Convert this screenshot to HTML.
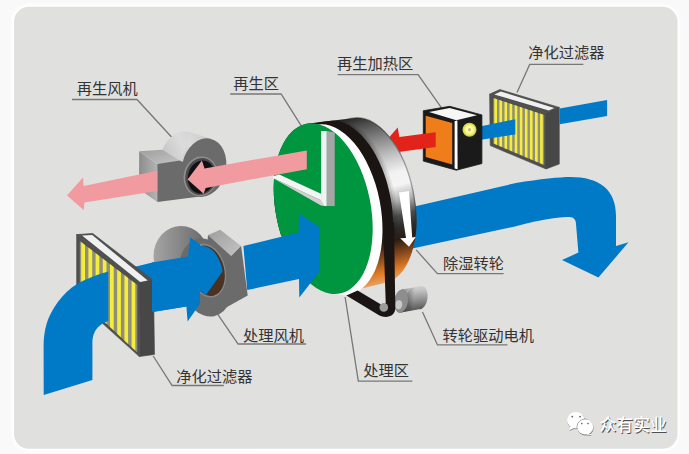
<!DOCTYPE html><html><head><meta charset="utf-8"><style>html,body{margin:0;padding:0;background:#f9f9f9;font-family:"Liberation Sans",sans-serif}svg{display:block}</style></head><body><svg width="689" height="454" viewBox="0 0 689 454"><defs><filter id="bl" x="-5%" y="-5%" width="110%" height="110%"><feGaussianBlur stdDeviation="1.2"/></filter><radialGradient id="yel"><stop offset="0" stop-color="#a8a8a0"/><stop offset="0.18" stop-color="#c8c890"/><stop offset="0.3" stop-color="#ffffa8"/><stop offset="0.65" stop-color="#f6f27a"/><stop offset="0.8" stop-color="#dde05a"/><stop offset="1" stop-color="#c4cc40"/></radialGradient><linearGradient id="rim" gradientUnits="userSpaceOnUse" x1="352" y1="117" x2="402" y2="296"><stop offset="0" stop-color="#262626"/><stop offset="0.06" stop-color="#505050"/><stop offset="0.15" stop-color="#868686"/><stop offset="0.26" stop-color="#c6c6c6"/><stop offset="0.35" stop-color="#f2f2f2"/><stop offset="0.42" stop-color="#f4f4f4"/><stop offset="0.5" stop-color="#b0b0b0"/><stop offset="0.58" stop-color="#4a4a4a"/><stop offset="0.64" stop-color="#2c2c2c"/><stop offset="0.70" stop-color="#2a1c12"/><stop offset="0.78" stop-color="#8a4a1e"/><stop offset="0.85" stop-color="#de7a22"/><stop offset="0.91" stop-color="#e8a468"/><stop offset="0.96" stop-color="#ead0b8"/></linearGradient><clipPath id="cr"><rect x="250" y="100" width="200" height="140"/></clipPath><clipPath id="cb"><rect x="250" y="100" width="200" height="136"/></clipPath><linearGradient id="fl" x1="0" y1="0" x2="1" y2="0"><stop offset="0" stop-color="#8c8c8c"/><stop offset="1" stop-color="#b4b4b4"/></linearGradient><linearGradient id="ft" x1="0" y1="0" x2="1" y2="1"><stop offset="0" stop-color="#9e9e9e"/><stop offset="1" stop-color="#c4c4c4"/></linearGradient><linearGradient id="fc" x1="0" y1="1" x2="1" y2="0"><stop offset="0" stop-color="#b0b0b0"/><stop offset="0.6" stop-color="#dcdcdc"/><stop offset="1" stop-color="#c8c8c8"/></linearGradient><linearGradient id="f2b" x1="0" y1="0" x2="1" y2="0"><stop offset="0" stop-color="#a4a4a4"/><stop offset="1" stop-color="#666"/></linearGradient><clipPath id="c1"><path d="M100,200 L200,200 L200,340 L100,340 Z"/><ellipse cx="206" cy="270.6" rx="16.2" ry="25" transform="rotate(-14 206 270.6)"/></clipPath><linearGradient id="mot" gradientUnits="userSpaceOnUse" x1="412" y1="286" x2="416" y2="313"><stop offset="0" stop-color="#d4d4d4"/><stop offset="0.18" stop-color="#c4c4c4"/><stop offset="0.5" stop-color="#969696"/><stop offset="1" stop-color="#484848"/></linearGradient><linearGradient id="mots" gradientUnits="userSpaceOnUse" x1="402" y1="0" x2="414" y2="0"><stop offset="0" stop-color="#000" stop-opacity="0.28"/><stop offset="1" stop-color="#000" stop-opacity="0"/></linearGradient></defs><rect width="689" height="454" fill="#f9f9f9"/>
<rect x="14" y="6.8" width="663.5" height="442" rx="15" fill="none" stroke="#ffffff" stroke-width="5" filter="url(#bl)"/>
<rect x="14" y="6.8" width="663.5" height="442" rx="15" fill="#e0e0df"/>
<text x="76.8" y="93.5" font-size="15.25" fill="#333" font-family="'Liberation Sans','Noto Sans CJK SC',sans-serif">再生风机</text><polyline points="72.0,99.5 137.0,99.5 171.5,137.0" fill="none" stroke="#777" stroke-width="1.3" />
<text x="233.3" y="88.8" font-size="15.25" fill="#333" font-family="'Liberation Sans','Noto Sans CJK SC',sans-serif">再生区</text><polyline points="230.2,94.0 281.1,94.0 301.9,126.8" fill="none" stroke="#777" stroke-width="1.3" />
<text x="337" y="69.2" font-size="15.25" fill="#333" font-family="'Liberation Sans','Noto Sans CJK SC',sans-serif">再生加热区</text><polyline points="337.7,74.7 418.1,74.7 441.5,107.9" fill="none" stroke="#777" stroke-width="1.3" />
<text x="528.3" y="57.7" font-size="15.25" fill="#333" font-family="'Liberation Sans','Noto Sans CJK SC',sans-serif">净化过滤器</text><polyline points="583.4,64.4 529.7,64.4 517.0,92.5" fill="none" stroke="#777" stroke-width="1.3" />
<text x="443" y="268.8" font-size="15.25" fill="#333" font-family="'Liberation Sans','Noto Sans CJK SC',sans-serif">除湿转轮</text><polyline points="503.6,273.6 437.4,273.6 416.2,249.9" fill="none" stroke="#777" stroke-width="1.3" />
<text x="442.5" y="341.3" font-size="15.25" fill="#333" font-family="'Liberation Sans','Noto Sans CJK SC',sans-serif">转轮驱动电机</text><polyline points="507.4,344.9 437.5,344.9 422.5,312.0" fill="none" stroke="#777" stroke-width="1.3" />
<text x="363.3" y="376.4" font-size="15.25" fill="#333" font-family="'Liberation Sans','Noto Sans CJK SC',sans-serif">处理区</text><polyline points="412.3,381.1 358.3,381.1 345.1,297.0" fill="none" stroke="#777" stroke-width="1.3" />
<text x="243.1" y="341" font-size="15.25" fill="#333" font-family="'Liberation Sans','Noto Sans CJK SC',sans-serif">处理风机</text><polyline points="306.0,344.0 238.1,344.0 216.6,312.6" fill="none" stroke="#777" stroke-width="1.3" />
<text x="176.3" y="381.5" font-size="15.25" fill="#333" font-family="'Liberation Sans','Noto Sans CJK SC',sans-serif">净化过滤器</text><polyline points="223.8,385.5 172.1,385.5 153.2,356.0" fill="none" stroke="#777" stroke-width="1.3" />
<polygon points="559.7,108.6 607.1,99.9 607.1,116.1 559.7,124.3" fill="#0079c6" />
<polygon points="489.6,94.2 499.9,89.6 559.3,107.5 546.0,113.0" fill="#4f4f4f" stroke="#4f4f4f" stroke-width="0.8" stroke-linejoin="round"/><polygon points="494.2,94.4 500.8,91.5 554.3,108.0 548.8,110.6" fill="#f0f0f0" /><polygon points="546.0,113.0 559.3,107.5 559.3,164.0 546.0,169.0" fill="#474747" stroke="#474747" stroke-width="0.6" stroke-linejoin="round"/><polygon points="489.6,94.2 490.2,145.6 546.0,169.0 546.0,113.0" fill="#4f4f4f" stroke="#4f4f4f" stroke-width="0.6" stroke-linejoin="round"/>
<polygon points="493.3,98.0 493.3,143.4 544.2,165.0 544.2,115.0" fill="#90907a" /><polygon points="494.3,98.3 494.3,143.8 497.0,145.0 497.0,99.2" fill="#f5ec3c" /><polygon points="499.4,100.0 499.4,146.0 502.1,147.1 502.1,100.9" fill="#f5ec3c" /><polygon points="504.5,101.7 504.5,148.2 507.1,149.3 507.1,102.6" fill="#f5ec3c" /><polygon points="509.6,103.4 509.6,150.3 512.2,151.4 512.2,104.3" fill="#f5ec3c" /><polygon points="514.7,105.1 514.7,152.5 517.3,153.6 517.3,106.0" fill="#f5ec3c" /><polygon points="519.8,106.8 519.8,154.6 522.4,155.8 522.4,107.7" fill="#f5ec3c" /><polygon points="524.9,108.5 524.9,156.8 527.5,157.9 527.5,109.4" fill="#f5ec3c" /><polygon points="529.9,110.2 529.9,159.0 532.6,160.1 532.6,111.1" fill="#f5ec3c" /><polygon points="535.0,111.9 535.0,161.1 537.7,162.2 537.7,112.8" fill="#f5ec3c" /><polygon points="540.1,113.6 540.1,163.3 542.8,164.4 542.8,114.5" fill="#f5ec3c" />
<polygon points="481.1,126.2 515.3,119.2 515.3,134.4 481.1,139.8" fill="#0079c6" />
<polygon points="423.3,110.7 449.7,106.3 481.9,114.9 481.9,163.6 456.3,170.2 423.3,161.1" fill="#1a1a1a" stroke="#1a1a1a" stroke-width="0.8" stroke-linejoin="round"/>
<polygon points="429.0,111.9 449.7,107.9 477.0,115.2 456.3,120.2" fill="#f6f6f6" />
<polygon points="425.7,115.7 452.2,123.1 452.2,164.4 425.7,157.0" fill="#ef7d1a" />
<polygon points="454.6,121.2 457.4,120.6 457.6,169.2 454.6,168.6" fill="#fff" />
<circle cx="469.5" cy="129.7" r="7" fill="url(#yel)"/>
<polygon points="435.7,132.2 399.4,136.9 397.7,127.5 387.7,139.0 400.8,160.0 400.2,151.7 435.7,147.1" fill="#e2231a" />
<path d="M410,207.5 L516,183 C540,179 560,177 570,177 C600,177 616,190 616,216 L616,246 L628.5,242.3 L598.4,277.5 L562,260 L578.4,252.6 L576,224 C576,218 572,216.5 566,217 C550,218 530,222 516,226.2 L410,249 Z" fill="#0079c6"/>
<polygon points="287.8,186.0 288.0,178.9 288.6,172.0 289.5,165.4 290.8,159.1 292.5,153.2 294.5,147.6 296.8,142.5 299.5,137.9 302.4,133.8 305.6,130.3 309.0,127.3 312.6,125.0 316.4,123.2 320.4,122.1 352.4,118.2 356.4,117.8 360.5,118.0 364.7,118.8 368.9,120.2 373.0,122.2 377.2,124.9 381.3,128.1 385.2,131.8 389.1,136.1 392.8,140.9 396.3,146.1 399.6,151.8 402.7,157.8 405.5,164.1 408.0,170.8 410.2,177.6 412.1,184.6 413.7,191.8 414.9,199.0 415.8,206.2 416.3,213.4 416.5,220.5 416.3,227.4 415.7,234.1 414.8,240.6 413.5,246.8 411.9,252.6 409.9,258.0 407.6,263.0 405.0,267.5 402.2,271.5 399.1,275.0 395.7,277.9 392.2,280.2 388.5,281.9 384.6,282.9 353.2,290.4 349.1,290.9 344.9,290.7 340.7,289.9 336.4,288.4 332.2,286.3 327.9,283.6 323.8,280.4 319.7,276.5 315.7,272.1 312.0,267.3 308.4,261.9 305.0,256.1 301.9,250.0 299.0,243.5 296.4,236.8 294.1,229.8 292.2,222.6 290.6,215.3 289.3,207.9 288.4,200.6 287.9,193.2" fill="url(#rim)" />
<g clip-path="url(#cr)"><ellipse cx="367.9" cy="200.6" rx="46.1" ry="83.9" transform="rotate(-11.1 367.9 200.6)" fill="none" stroke="#2a2a2a" stroke-width="1.4" stroke-opacity="0.4"/></g>
<polygon points="283.1,186.7 283.3,179.6 283.9,172.7 284.9,166.1 286.2,159.8 287.8,153.8 289.9,148.2 292.2,143.1 294.8,138.5 297.7,134.4 300.9,130.9 304.4,127.9 308.0,125.5 311.8,123.8 315.8,122.7 330.4,120.9 334.5,120.5 338.6,120.6 342.9,121.4 347.1,122.9 351.4,125.0 355.6,127.6 359.7,130.9 363.8,134.7 367.7,139.1 371.4,143.9 375.0,149.2 378.3,154.9 381.4,161.1 384.3,167.5 386.9,174.2 389.1,181.2 391.1,188.3 392.6,195.5 393.9,202.8 394.8,210.2 395.3,217.5 395.5,224.7 395.2,231.7 394.7,238.5 393.7,245.1 392.4,251.3 390.8,257.2 388.8,262.8 386.4,267.8 383.8,272.4 380.9,276.4 377.8,279.9 374.4,282.9 370.8,285.2 367.0,287.0 363.1,288.1 348.7,291.5 344.6,291.9 340.4,291.8 336.2,290.9 331.9,289.5 327.6,287.4 323.4,284.7 319.2,281.4 315.1,277.5 311.1,273.1 307.4,268.3 303.8,262.9 300.4,257.1 297.2,250.9 294.4,244.4 291.8,237.7 289.5,230.7 287.5,223.4 285.9,216.1 284.7,208.7 283.8,201.3 283.2,194.0" fill="#000" clip-path="url(#cb)" fill-opacity="0.1"/>
<polygon points="283.1,186.7 283.3,179.6 283.9,172.7 284.9,166.1 286.2,159.8 287.8,153.8 289.9,148.2 292.2,143.1 294.8,138.5 297.7,134.4 300.9,130.9 304.4,127.9 308.0,125.5 311.8,123.8 315.8,122.7 332.7,120.6 336.8,120.2 340.9,120.3 345.1,121.2 349.4,122.6 353.6,124.7 357.8,127.3 361.9,130.6 366.0,134.4 369.9,138.8 373.6,143.6 377.2,148.9 380.6,154.6 383.7,160.7 386.5,167.1 389.1,173.8 391.3,180.8 393.2,187.9 394.8,195.1 396.1,202.4 397.0,209.8 397.5,217.0 397.6,224.2 397.4,231.2 396.9,238.1 395.9,244.6 394.6,250.9 392.9,256.8 391.0,262.2 388.6,267.3 386.0,271.9 383.2,275.9 380.0,279.4 376.6,282.4 373.0,284.7 369.2,286.4 365.3,287.5 348.7,291.5 344.6,291.9 340.4,291.8 336.2,290.9 331.9,289.5 327.6,287.4 323.4,284.7 319.2,281.4 315.1,277.5 311.1,273.1 307.4,268.3 303.8,262.9 300.4,257.1 297.2,250.9 294.4,244.4 291.8,237.7 289.5,230.7 287.5,223.4 285.9,216.1 284.7,208.7 283.8,201.3 283.2,194.0" fill="#000" clip-path="url(#cb)" fill-opacity="0.07"/>
<polygon points="273.7,188.2 273.9,181.1 274.5,174.1 275.5,167.5 276.8,161.1 278.5,155.1 280.5,149.5 282.9,144.4 285.5,139.7 288.5,135.6 291.7,132.0 295.1,129.1 298.8,126.7 302.6,124.9 306.6,123.8 327.9,121.2 332.0,120.8 336.1,120.9 340.4,121.8 344.6,123.2 348.9,125.3 353.1,128.0 357.2,131.2 361.3,135.0 365.2,139.4 369.0,144.2 372.5,149.6 375.9,155.3 379.0,161.4 381.9,167.9 384.4,174.6 386.7,181.6 388.6,188.7 390.2,196.0 391.5,203.3 392.4,210.6 392.9,217.9 393.1,225.1 392.8,232.2 392.2,239.0 391.3,245.6 390.0,251.9 388.3,257.8 386.3,263.3 384.0,268.4 381.4,272.9 378.5,277.0 375.4,280.5 371.9,283.5 368.4,285.8 364.6,287.5 360.6,288.6 339.8,293.6 335.6,294.1 331.4,293.9 327.1,293.1 322.8,291.6 318.5,289.5 314.2,286.8 310.0,283.5 305.9,279.6 302.0,275.2 298.1,270.2 294.5,264.9 291.1,259.0 288.0,252.8 285.1,246.3 282.5,239.5 280.2,232.4 278.2,225.2 276.6,217.8 275.3,210.4 274.4,202.9 273.9,195.5" fill="#1a1412" clip-path="url(#cb)"/>
<ellipse cx="333.0" cy="209.6" rx="47.5" ry="86.5" transform="rotate(-11.1 333.0 209.6)" fill="#fff" />
<ellipse cx="323.2" cy="208.7" rx="47.5" ry="86.5" transform="rotate(-11.1 323.2 208.7)" fill="#00953f" />
<polygon points="273.2,176.2 279.2,174.5 321.5,194.0 321.5,200.5 273.2,178.2" fill="#f4f4f4" />
<polygon points="273.2,178.2 321.5,200.5 324.1,206.0 321.0,205.5" fill="#d4cfcf" />
<polygon points="321.1,130.9 326.8,130.9 326.8,206.0 324.1,206.0 321.1,200.5" fill="#f2f2f2" />
<polygon points="326.8,130.9 334.7,132.5 334.7,206.0 326.8,206.0" fill="#a6a6a6" />
<polygon points="399.0,192.5 409.0,191.0 412.2,237.5 415.8,237.0 409.0,246.8 400.2,238.3 406.0,238.0" fill="#fff" />
<g fill="url(#fc)" ><ellipse cx="182.0" cy="160.6" rx="22.0" ry="29.6" transform="rotate(12.0 182.0 160.6)" fill="url(#fc)" /><ellipse cx="204.0" cy="167.6" rx="22.0" ry="29.6" transform="rotate(12.0 204.0 167.6)" fill="url(#fc)" /><polygon points="189.7,132.1 174.3,189.1 196.3,196.1 211.7,139.1"/></g>
<polygon points="139.1,151.2 157.3,163.9 157.3,201.9 139.1,189.0" fill="url(#fl)" />
<polygon points="139.1,151.2 162.3,149.8 179.6,160.6 157.3,163.9" fill="url(#ft)" />
<polygon points="157.3,163.9 179.6,160.6 200.0,170.0 200.0,196.5 157.3,201.9" fill="#6b6b6b" />
<ellipse cx="204.0" cy="167.6" rx="22.0" ry="29.6" transform="rotate(12.0 204.0 167.6)" fill="#6b6b6b" />
<ellipse cx="200.7" cy="176.3" rx="17.0" ry="20.0" transform="rotate(12.0 200.7 176.3)" fill="#8e8e8e" />
<ellipse cx="201.0" cy="176.5" rx="15.6" ry="18.6" transform="rotate(12.0 201.0 176.5)" fill="#4a4a4a" />
<ellipse cx="201.4" cy="177.0" rx="13.4" ry="16.6" transform="rotate(12.0 201.4 177.0)" fill="#111" />
<polygon points="306.8,150.4 204.5,168.4 201.9,160.6 187.6,179.6 203.6,193.8 205.7,187.9 306.8,169.2" fill="#f19aa0" />
<polygon points="157.3,170.8 83.7,186.0 83.0,177.5 67.0,195.5 83.7,210.0 84.4,202.5 157.3,191.0" fill="#f19aa0" />
<path d="M108,272 L136,266.4 L186.2,254.2 L186.2,306.6 L153,312 L108,320 Z" fill="#0079c6"/>
<polygon points="76.6,234.6 92.8,233.6 153.4,280.4 139.1,283.4" fill="#4f4f4f" stroke="#4f4f4f" stroke-width="0.8" stroke-linejoin="round"/><polygon points="82.0,235.4 92.2,235.0 147.7,280.6 140.2,282.0" fill="#f0f0f0" /><polygon points="139.1,283.4 153.4,280.4 154.5,354.4 139.3,356.6" fill="#474747" stroke="#474747" stroke-width="0.6" stroke-linejoin="round"/><polygon points="76.6,234.6 76.6,300.0 139.3,356.6 139.1,283.4" fill="#4f4f4f" stroke="#4f4f4f" stroke-width="0.6" stroke-linejoin="round"/>
<polygon points="79.8,241.0 79.8,299.0 137.3,352.5 137.3,285.0" fill="#90907a" /><polygon points="81.2,242.1 81.2,300.3 85.0,303.8 85.0,245.0" fill="#f5ec3c" /><polygon points="88.4,247.6 88.4,307.0 92.2,310.5 92.2,250.5" fill="#f5ec3c" /><polygon points="95.6,253.1 95.6,313.7 99.3,317.2 99.3,256.0" fill="#f5ec3c" /><polygon points="102.8,258.6 102.8,320.4 106.5,323.9 106.5,261.5" fill="#f5ec3c" /><polygon points="110.0,264.1 110.0,327.1 113.7,330.6 113.7,267.0" fill="#f5ec3c" /><polygon points="117.2,269.6 117.2,333.8 120.9,337.3 120.9,272.5" fill="#f5ec3c" /><polygon points="124.4,275.1 124.4,340.5 128.1,343.9 128.1,278.0" fill="#f5ec3c" /><polygon points="131.6,280.6 131.6,347.1 135.3,350.6 135.3,283.5" fill="#f5ec3c" />
<path d="M108.3,271.4 C97,274.5 86,279 77.5,283.8 C62,293 50.5,311 46.7,323.4 C44.5,331 43.6,338 43.6,346 L43.7,394.9 L92.4,380 L92.4,343 C92.4,334 96,327.5 102,324 L108.3,320.7 Z" fill="#0079c6"/>
<ellipse cx="181.0" cy="256.0" rx="27.5" ry="30.0" transform="rotate(0.0 181.0 256.0)" fill="url(#f2b)" />
<ellipse cx="206.0" cy="277.5" rx="27.0" ry="39.5" transform="rotate(-12.0 206.0 277.5)" fill="#6b6b6b" />
<polygon points="208.0,235.0 220.2,229.8 241.1,246.0 231.2,255.9" fill="url(#ft)" />
<polygon points="231.2,255.9 241.1,246.0 247.7,295.5 219.0,311.5 205.0,300.0" fill="#6b6b6b" />
<polygon points="208.0,235.0 231.2,255.9 228.0,300.0 204.0,280.0" fill="#6b6b6b" />
<ellipse cx="207.0" cy="270.5" rx="18.5" ry="27.5" transform="rotate(-14.0 207.0 270.5)" fill="#858585" />
<ellipse cx="207.3" cy="270.8" rx="16.9" ry="25.6" transform="rotate(-14.0 207.3 270.8)" fill="#4a3222" />
<g clip-path="url(#c1)"><polygon points="152.0,262.5 188.0,256.4 190.2,237.2 201.4,245.4 215.0,238.0 238.0,255.0 221.6,272.8 187.6,321.5 186.4,306.4 152.0,312.0" fill="#0079c6" /></g>
<polygon points="243.4,246.0 298.6,232.6 298.9,213.6 319.7,227.2 319.7,271.2 299.3,297.4 299.0,279.0 247.2,290.0" fill="#0079c6" />
<g fill="url(#mot)" ><ellipse cx="401.2" cy="301.0" rx="6.8" ry="11.6" transform="rotate(8.0 401.2 301.0)" fill="url(#mot)" /><ellipse cx="420.8" cy="297.6" rx="6.8" ry="11.6" transform="rotate(8.0 420.8 297.6)" fill="url(#mot)" /><polygon points="401.5,289.5 400.9,312.5 420.5,309.1 421.1,286.1"/></g>
<g fill="url(#mots)" ><ellipse cx="401.2" cy="301.0" rx="6.8" ry="11.6" transform="rotate(8.0 401.2 301.0)" fill="url(#mots)" /><ellipse cx="413.2" cy="298.9" rx="6.8" ry="11.6" transform="rotate(8.0 413.2 298.9)" fill="url(#mots)" /><polygon points="401.5,289.5 400.9,312.5 412.9,310.4 413.5,287.4"/></g>
<ellipse cx="401.2" cy="301.0" rx="6.8" ry="11.6" transform="rotate(8.0 401.2 301.0)" fill="#8e8e8e" />
<ellipse cx="398.7" cy="304.8" rx="3.5" ry="4.6" transform="rotate(8.0 398.7 304.8)" fill="#c9c9c9" />
<path d="M383,222 L394,222 L395.3,308 C395.5,316.5 386,319 379,315.2 L346.4,295.6 L357.6,290.4 L381,304.5 C383.5,306 385.8,305 385.7,302 Z" fill="#1a1412"/>
<circle cx="383.8" cy="307.4" r="4.3" fill="#9c9c9c"/>
<g fill="#5a5a5a" opacity="0.75" transform="translate(0.3 0.9)"><ellipse cx="575.8" cy="420.2" rx="8.8" ry="8.2"/><path d="M570.6,426 l-1.4,4.2 4.6,-2z"/></g><g fill="#fff"><ellipse cx="575.8" cy="420.2" rx="8.8" ry="8.2"/><path d="M570.6,426 l-1.4,4.2 4.6,-2z"/></g><g fill="#5a5a5a" opacity="0.75" transform="translate(0.3 0.9)"><ellipse cx="585.3" cy="427" rx="8" ry="7.6"/><path d="M588.6,433 l2.8,2 -5,-0.6z"/></g><path d="M577.3,429.0 A8.3,7.9 0 0 1 587.4,419.4" fill="none" stroke="#8c8c8c" stroke-width="0.9"/><g fill="#fff"><ellipse cx="585.3" cy="427" rx="8" ry="7.6"/><path d="M588.6,433 l2.8,2 -5,-0.6z"/></g><g fill="#666"><circle cx="572.3" cy="416.6" r="0.95"/><circle cx="580" cy="416.6" r="0.95"/><circle cx="581.8" cy="423.5" r="0.85"/><circle cx="588" cy="423.5" r="0.85"/></g>
<text x="600.4" y="431.6" font-size="16.8" font-weight="500" fill="#505050" font-family="'Liberation Sans','Noto Sans CJK SC',sans-serif">众有实业</text>
<text x="599.6" y="430.8" font-size="16.8" font-weight="500" fill="#fff" font-family="'Liberation Sans','Noto Sans CJK SC',sans-serif">众有实业</text></svg></body></html>
